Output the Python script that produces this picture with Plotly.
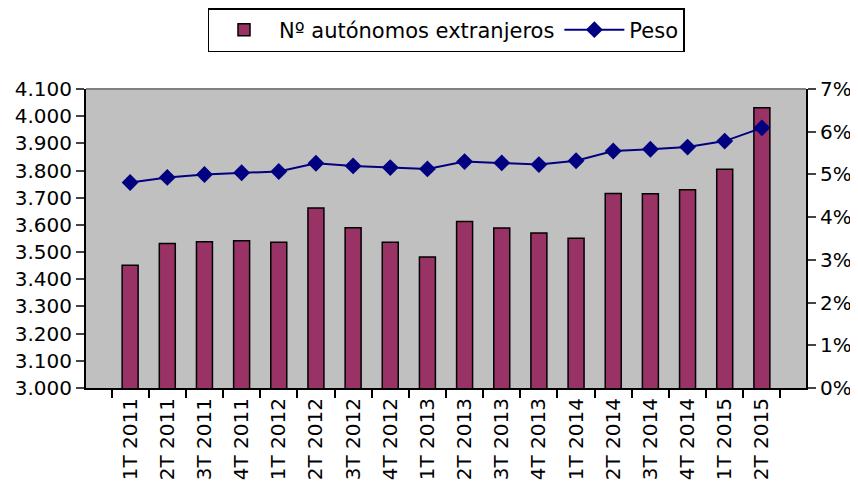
"""
Autónomos extranjeros: número (barras) y peso (línea)
"""
import plotly.graph_objects as go

# datos
trimestres = ["1T 2011", "2T 2011", "3T 2011", "4T 2011",
              "1T 2012", "2T 2012", "3T 2012", "4T 2012",
              "1T 2013", "2T 2013", "3T 2013", "4T 2013",
              "1T 2014", "2T 2014", "3T 2014", "4T 2014",
              "1T 2015", "2T 2015"]
autonomos = [3452, 3532, 3538, 3542, 3536, 3662, 3590, 3536, 3482,
             3613, 3589, 3570, 3551, 3716, 3715, 3729, 3805, 4031]
peso = [4.81, 4.93, 5.00, 5.04, 5.07, 5.26, 5.20, 5.16, 5.13,
        5.30, 5.27, 5.23, 5.32, 5.55, 5.59, 5.64, 5.78, 6.09]

fig = go.Figure()

fig.add_trace(go.Bar(
    x=trimestres, y=autonomos, name="Nº autónomos extranjeros",
    marker=dict(color="#993366", line=dict(color="black", width=1.5)),
))
fig.add_trace(go.Scatter(
    x=trimestres, y=peso, name="Peso", yaxis="y2",
    mode="lines+markers",
    line=dict(color="#000080", width=2),
    marker=dict(symbol="diamond", size=13, color="#000080"),
))

# la página añade 8 px de margen al cuerpo: se compensa aquí
fig.update_layout(
    width=850, height=482,
    margin=dict(l=78, r=52, t=81, b=102),
    paper_bgcolor="white", plot_bgcolor="#C0C0C0",
    font=dict(family="DejaVu Sans", size=20, color="black"),
    separators=",.",
    bargap=0.57,
    showlegend=True,
    legend=dict(orientation="h", x=0.5, xanchor="center",
                yref="container", y=1.0, yanchor="top",
                bordercolor="black", borderwidth=1.5, font=dict(size=21),
                itemwidth=60),
)

fig.update_xaxes(tickangle=-90, showline=True, linecolor="black", linewidth=2,
                 ticks="outside", tickson="boundaries", ticklen=8, tickwidth=2,
                 tickcolor="black", showgrid=False, automargin=False)
fig.update_layout(
    yaxis=dict(range=[3000, 4100], dtick=100, tickformat=",.0f",
               showline=True, linecolor="black", linewidth=2, automargin=False,
               ticks="outside", ticklen=8, tickwidth=2, showgrid=False, zeroline=False),
    yaxis2=dict(range=[0, 7], dtick=1, ticksuffix="%", overlaying="y", side="right",
                showline=True, linecolor="black", linewidth=2, automargin=False,
                ticks="outside", ticklen=8, tickwidth=2, showgrid=False, zeroline=False),
)

# borde superior gris del área de trazado
fig.add_shape(type="line", xref="paper", yref="paper", x0=0, x1=1, y0=1, y1=1,
              line=dict(color="#808080", width=2))

fig.write_html("out.html")
